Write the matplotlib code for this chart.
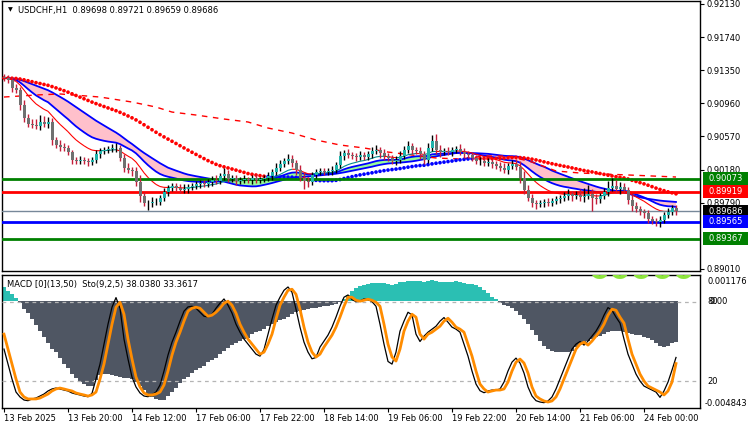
import numpy as np
import pandas as pd
import matplotlib
matplotlib.use('Agg')
import matplotlib.pyplot as plt
from matplotlib.collections import LineCollection
from matplotlib.patches import Rectangle

plt.rcParams['font.family'] = ['DejaVu Sans']
FS = 6

# ---- data (USDCHF H1) ----
first_open = 0.91270
closes = [
    0.91258, 0.91235, 0.91140, 0.91117, 0.90940, 0.90787, 0.90716, 0.90705, 0.90693, 0.90740,
    0.90716, 0.90740, 0.90528, 0.90469, 0.90445, 0.90434, 0.90386, 0.90292, 0.90280, 0.90292,
    0.90280, 0.90269, 0.90292, 0.90363, 0.90398, 0.90410, 0.90422, 0.90434, 0.90434, 0.90316,
    0.90198, 0.90174, 0.90163, 0.90033, 0.89868, 0.89786, 0.89786, 0.89797, 0.89797, 0.89845,
    0.89915, 0.89962, 0.89986, 0.89962, 0.89939, 0.89951, 0.89974, 0.89986, 0.90010, 0.90021,
    0.90010, 0.90033, 0.90057, 0.90045, 0.90104, 0.90127, 0.90068, 0.90080, 0.90045, 0.90057,
    0.90068, 0.90057, 0.90080, 0.90057, 0.90068, 0.90080, 0.90104, 0.90151, 0.90198, 0.90245,
    0.90280, 0.90304, 0.90257, 0.90174, 0.90080, 0.90045, 0.90033, 0.90116, 0.90151, 0.90163,
    0.90151, 0.90163, 0.90174, 0.90233, 0.90339, 0.90375, 0.90351, 0.90339, 0.90328, 0.90351,
    0.90328, 0.90363, 0.90398, 0.90410, 0.90375, 0.90339, 0.90316, 0.90280, 0.90292, 0.90339,
    0.90410, 0.90457, 0.90410, 0.90398, 0.90363, 0.90292, 0.90434, 0.90516, 0.90410, 0.90386,
    0.90398, 0.90386, 0.90410, 0.90422, 0.90386, 0.90363, 0.90351, 0.90316, 0.90280, 0.90280,
    0.90257, 0.90269, 0.90245, 0.90222, 0.90198, 0.90174, 0.90222, 0.90245, 0.90210, 0.90080,
    0.89939, 0.89845, 0.89786, 0.89774, 0.89786, 0.89797, 0.89786, 0.89809, 0.89833, 0.89845,
    0.89868, 0.89892, 0.89868, 0.89880, 0.89856, 0.89868, 0.89892, 0.89845, 0.89833, 0.89868,
    0.89915, 0.89962, 0.89986, 0.89951, 0.89974, 0.89939, 0.89821, 0.89750, 0.89715, 0.89691,
    0.89668, 0.89597, 0.89574, 0.89562, 0.89585, 0.89644, 0.89680, 0.89727, 0.89686]

# wick lengths in pips above / below the body
wick_up = [
    3, 4, 3, 5, 4, 6, 5, 6, 7, 8, 7, 6, 5, 4, 6, 5, 4, 3, 4, 5,
    4, 3, 4, 5, 4, 3, 4, 5, 6, 4, 5, 6, 4, 5, 8, 5, 4, 6, 5, 4,
    5, 4, 3, 4, 5, 6, 4, 3, 4, 3, 4, 3, 5, 6, 4, 7, 5, 4, 3, 4,
    5, 3, 4, 5, 3, 4, 5, 4, 6, 5, 4, 6, 5, 4, 6, 7, 5, 4, 3, 4,
    3, 4, 5, 4, 6, 4, 5, 3, 4, 5, 4, 3, 5, 6, 4, 5, 3, 4, 5, 6,
    5, 6, 4, 3, 5, 4, 6, 7, 8, 6, 4, 5, 3, 4, 6, 5, 4, 3, 4, 5,
    4, 5, 3, 4, 5, 6, 4, 5, 6, 7, 8, 6, 5, 4, 3, 4, 5, 4, 3, 4,
    5, 6, 4, 5, 7, 9, 11, 6, 5, 4, 5, 8, 9, 7, 6, 5, 4, 6, 5, 4,
    3, 4, 3, 4, 5, 4, 5, 4, 3]
wick_dn = [
    4, 3, 5, 4, 6, 5, 4, 3, 4, 5, 4, 5, 6, 4, 5, 3, 4, 5, 4, 3,
    4, 5, 3, 4, 5, 4, 3, 4, 5, 4, 5, 4, 6, 5, 7, 4, 8, 5, 4, 3,
    4, 5, 3, 4, 3, 4, 5, 3, 4, 5, 3, 4, 5, 3, 4, 5, 4, 3, 5, 4,
    3, 4, 5, 3, 4, 3, 4, 5, 3, 4, 4, 3, 5, 6, 4, 9, 6, 4, 3, 4,
    3, 4, 5, 3, 4, 5, 3, 4, 5, 4, 3, 4, 5, 4, 6, 5, 4, 3, 5, 4,
    4, 3, 5, 4, 6, 5, 4, 3, 5, 6, 3, 4, 5, 4, 3, 5, 4, 3, 4, 5,
    4, 3, 5, 4, 3, 4, 5, 4, 3, 6, 5, 4, 5, 6, 4, 5, 4, 3, 4, 5,
    4, 5, 6, 4, 5, 6, 4, 15, 6, 5, 4, 5, 4, 5, 6, 4, 5, 6, 4, 5,
    6, 5, 4, 5, 6, 4, 3, 4, 4]

# slow dashed average, sampled (bar index, price)
slow_ma_bars = [0, 8, 14, 24, 32, 38, 42, 48, 55, 61, 66, 72, 78, 84, 90, 96,
                102, 108, 114, 120, 126, 132, 138, 144, 150, 156, 162, 168]
slow_ma_vals = [0.91034, 0.91058, 0.91070, 0.91034, 0.90975, 0.90916, 0.90857, 0.90822,
                0.90775, 0.90740, 0.90669, 0.90610, 0.90528, 0.90469, 0.90434, 0.90386,
                0.90351, 0.90316, 0.90304, 0.90339, 0.90339, 0.90269, 0.90163, 0.90139,
                0.90127, 0.90116, 0.90104, 0.90092]

# MACD(13,50) histogram, in 1e-5
macd_hist = [
    63, 45, 31, 13, -9, -36, -54, -81, -108, -135,
    -162, -189, -216, -233, -260, -283, -305, -332, -350, -368,
    -377, -386, -386, -359, -337, -332, -332, -337, -341, -346,
    -350, -350, -355, -368, -386, -404, -422, -436, -445, -449,
    -449, -431, -413, -395, -373, -355, -346, -328, -314, -305,
    -292, -278, -269, -260, -242, -225, -211, -198, -189, -180,
    -171, -166, -148, -139, -135, -126, -112, -103, -94, -85,
    -81, -72, -58, -49, -45, -40, -36, -31, -31, -27,
    -22, -22, -18, -13, -4, 9, 27, 45, 58, 67,
    72, 76, 81, 81, 81, 81, 76, 72, 76, 85,
    85, 90, 90, 90, 90, 85, 90, 94, 90, 85,
    85, 85, 85, 90, 85, 81, 76, 76, 72, 63,
    49, 36, 18, 9, -9, -18, -22, -31, -45, -63,
    -81, -103, -130, -153, -180, -202, -216, -225, -229, -229,
    -229, -229, -225, -207, -198, -193, -180, -171, -162, -157,
    -148, -139, -135, -135, -135, -139, -144, -148, -153, -153,
    -162, -166, -175, -189, -202, -207, -202, -189, -184]

# Stochastic(9,2,5)
sto_main = [
    44.3, 33.0, 21.8, 12.0, 8.3, 6.0, 5.5, 6.8, 7.5, 9.0,
    10.5, 12.8, 14.3, 15.0, 14.3, 13.5, 12.8, 11.3, 10.5, 9.8,
    9.0, 8.5, 11.0, 21.8, 33.0, 48.0, 63.0, 75.8, 83.0, 75.0,
    51.8, 36.8, 23.3, 15.8, 11.3, 9.0, 8.5, 10.0, 12.0, 17.3,
    27.8, 39.8, 49.5, 57.0, 65.3, 72.8, 76.0, 76.5, 75.0, 72.0,
    69.0, 68.5, 70.5, 75.0, 78.8, 82.0, 77.3, 71.3, 63.0, 57.0,
    51.8, 48.0, 44.3, 40.5, 39.0, 44.0, 55.5, 66.8, 77.3, 83.3,
    88.5, 91.0, 87.0, 74.3, 60.8, 49.5, 42.0, 37.0, 38.0, 45.8,
    50.3, 54.8, 60.8, 68.3, 76.5, 83.3, 85.0, 81.5, 80.0, 80.5,
    82.0, 81.5, 80.0, 76.5, 63.0, 48.0, 35.0, 33.0, 42.0, 57.8,
    65.3, 72.0, 70.0, 55.5, 50.0, 54.0, 57.0, 59.3, 61.5, 65.3,
    68.0, 64.5, 60.8, 59.3, 57.0, 48.0, 39.0, 27.8, 18.0, 13.0,
    11.5, 12.8, 13.5, 13.5, 14.3, 19.5, 27.8, 34.5, 37.5, 33.8,
    26.3, 15.8, 9.0, 5.5, 4.5, 4.0, 5.3, 8.3, 14.3, 21.8,
    29.3, 36.8, 44.3, 48.0, 50.0, 47.3, 50.3, 54.0, 57.8, 63.0,
    69.8, 75.5, 73.5, 68.3, 63.8, 51.8, 40.5, 33.0, 25.5, 20.3,
    16.5, 15.0, 13.5, 12.0, 8.0, 12.8, 19.5, 28.5, 38.0]
sto_signal = [
    55.5, 44.3, 33.0, 21.8, 12.0, 8.3, 6.8, 6.8, 6.8, 7.5,
    9.0, 10.5, 12.8, 14.3, 15.0, 14.3, 13.5, 12.8, 11.3, 10.5,
    9.8, 9.0, 9.8, 12.0, 21.8, 33.0, 48.0, 63.0, 75.8, 79.5,
    70.5, 51.8, 36.8, 23.3, 15.8, 11.3, 9.8, 9.8, 10.5, 12.0,
    17.3, 27.8, 39.8, 49.5, 57.0, 65.3, 72.8, 75.0, 75.8, 75.0,
    72.0, 69.0, 69.8, 72.0, 75.0, 78.8, 80.3, 77.3, 71.3, 63.0,
    57.0, 51.8, 48.0, 44.3, 40.5, 42.0, 48.0, 55.5, 66.8, 77.3,
    83.3, 88.5, 89.3, 85.5, 74.3, 60.8, 49.5, 42.0, 38.3, 40.5,
    45.8, 50.3, 54.8, 60.8, 68.3, 76.5, 83.3, 83.3, 81.0, 80.3,
    81.0, 81.8, 81.0, 79.5, 76.5, 63.0, 48.0, 38.3, 35.3, 44.3,
    57.8, 65.3, 70.5, 68.3, 55.5, 51.8, 55.5, 57.0, 59.3, 61.5,
    65.3, 67.5, 64.5, 60.8, 59.3, 57.0, 48.0, 39.0, 27.8, 18.0,
    14.3, 12.0, 12.8, 13.5, 13.5, 14.3, 19.5, 27.8, 34.5, 36.8,
    33.8, 26.3, 15.8, 9.0, 6.8, 5.3, 4.5, 5.3, 8.3, 14.3,
    21.8, 29.3, 36.8, 44.3, 48.0, 49.5, 47.3, 50.3, 54.0, 57.8,
    63.0, 69.8, 74.3, 73.5, 68.3, 63.8, 51.8, 40.5, 33.0, 25.5,
    20.3, 16.5, 15.0, 13.5, 12.0, 9.8, 12.8, 19.5, 33.4]

price_ticks = [0.92130, 0.91740, 0.91350, 0.90960, 0.90570, 0.90180, 0.89790, 0.89010]
levels = [(0.90073, '#008000', 2.0), (0.89919, '#FF0000', 2.0),
          (0.89565, '#0000FF', 2.0), (0.89367, '#008000', 2.0)]
bid = 0.89686
date_ticks = [0, 16, 32, 48, 64, 80, 96, 112, 128, 144, 160]
date_labels = ['13 Feb 2025', '13 Feb 20:00', '14 Feb 12:00', '17 Feb 06:00',
               '17 Feb 22:00', '18 Feb 14:00', '19 Feb 06:00', '19 Feb 22:00',
               '20 Feb 14:00', '21 Feb 06:00', '24 Feb 00:00']

# ---- derived series ----
c = np.array(closes)
n = len(c)
x = np.arange(n)
o = np.concatenate([[first_open], c[:-1]])
hi = np.maximum(o, c) + np.array(wick_up) * 1e-4
lo = np.minimum(o, c) - np.array(wick_dn) * 1e-4
bull = c >= o


def sma(vals, per):
    pad = np.concatenate([np.full(per - 1, vals[0]), vals])
    return pd.Series(pad).rolling(per).mean().values[per - 1:]


ema12 = pd.Series(c).ewm(span=12, adjust=False).mean().values
ema21 = pd.Series(c).ewm(span=21, adjust=False).mean().values
sma30 = sma(c, 30)
sma50 = sma(c, 50)

W, H = 750, 430
fig = plt.figure(figsize=(W / 100, H / 100), dpi=100)
fig.patch.set_facecolor('white')


def fx(px):
    return px / W


def fy(py):
    return 1 - py / H


ax = fig.add_axes([fx(2), fy(271), fx(698), 270 / H])
ax.set_xlim(-0.5, 174)
ax.set_ylim(0.88985, 0.92165)

# cloud
ax.fill_between(x, ema21, sma30, where=ema21 < sma30, interpolate=True,
                color='#FFC0CB', lw=0, zorder=1)
ax.fill_between(x, ema21, sma30, where=ema21 >= sma30, interpolate=True,
                color='#98FB98', lw=0, zorder=1)
ax.plot(x, ema21, color='#0000FF', lw=1.3, zorder=2)
ax.plot(x, sma30, color='#0000FF', lw=1.3, zorder=2)

# slow dashed
ax.plot(slow_ma_bars, slow_ma_vals, color='#FF0000', lw=1, dashes=(4, 4), zorder=2)

# dotted sma50
dot_cols = np.where(c > sma50, '#0000FF', '#FF0000')
ax.scatter(x, sma50, s=7, c=dot_cols, marker='o', lw=0, zorder=3)

# thin ema12, coloured by price side
segs = [[(x[i], ema12[i]), (x[i + 1], ema12[i + 1])] for i in range(n - 1)]
seg_cols = ['#008B8B' if c[i + 1] > ema12[i + 1] else '#FF0000' for i in range(n - 1)]
ax.add_collection(LineCollection(segs, colors=seg_cols, lw=0.8, zorder=3))

# horizontal levels
for lvl, col, lw in levels:
    ax.axhline(lvl, color=col, lw=lw, zorder=4)
ax.axhline(bid, color='#778899', lw=1, zorder=4)

# candles
wick_cols = np.where(bull, '#000000', '#C41E3A')
ax.vlines(x, lo, hi, colors=wick_cols, lw=1, zorder=5)
body_h = np.maximum(np.abs(c - o), 0.00003)
ax.bar(x, body_h, bottom=np.minimum(o, c), width=0.75,
       color=np.where(bull, '#20B2AA', '#707070'), lw=0, zorder=6)

ax.set_xticks([])
ax.yaxis.tick_right()
ax.set_yticks(price_ticks)
ax.set_yticklabels(['%.5f' % p for p in price_ticks])
ax.tick_params(axis='y', labelsize=FS, length=3, width=0.8, pad=2)
for s in ax.spines.values():
    s.set_color('black')
    s.set_linewidth(1)

# price boxes on the right
ytr = ax.get_yaxis_transform()
boxes = [(0.90073, '#008000'), (0.89919, '#FF0000'), (bid, '#000000'),
         (0.89565, '#0000FF'), (0.89367, '#008000')]
half = 6.5 * (0.92165 - 0.88985) / 270
for lvl, col in boxes:
    ax.add_patch(Rectangle((1.0043, lvl - half), 0.0645, 2 * half, transform=ytr,
                           facecolor=col, edgecolor='none', clip_on=False, zorder=10))
    ax.text(1.0365, lvl, '%.5f' % lvl, transform=ytr, color='white', fontsize=FS,
            ha='center', va='center', clip_on=False, zorder=11)

fig.text(fx(8), fy(10), '\u25BC', fontsize=4.5, va='center', ha='left')
fig.text(fx(18), fy(10), 'USDCHF,H1  0.89698 0.89721 0.89659 0.89686',
         fontsize=FS, va='center', ha='left')

# ---- lower panel ----
ax2 = fig.add_axes([fx(2), fy(408), fx(698), 133 / H])
ax2.set_xlim(-0.5, 174)
ax2.set_ylim(-0.004843, 0.001176)
hv = np.array(macd_hist) * 1e-5
ax2.bar(x, hv, width=0.82, color=np.where(hv >= 0, '#2BBFB3', '#4F5663'), lw=0, zorder=2)
ax2.set_yticks([])
ax2.set_xticks(date_ticks)
ax2.set_xticklabels(date_labels)
ax2.tick_params(axis='x', labelsize=FS, length=3, width=0.8, pad=1.5)
for lab in ax2.get_xticklabels():
    lab.set_ha('left')
for s in ax2.spines.values():
    s.set_color('black')
    s.set_linewidth(1)

ax3 = ax2.twinx()
ax3.set_ylim(0, 100)
ax3.axhline(80, color='#B4B4B4', lw=0.9, dashes=(3, 3), zorder=1)
ax3.axhline(20, color='#B4B4B4', lw=0.9, dashes=(3, 3), zorder=1)
ax3.plot(x, sto_main, color='black', lw=0.9, zorder=3)
ax3.plot(x, sto_signal, color='#FF8C00', lw=2, zorder=4)
ax3.set_yticks([])
for s in ax3.spines.values():
    s.set_visible(False)

# lime object at the top edge of the sub-window, mostly out of view
lime = fig.text(fx(588), fy(279), '00000', fontsize=22, fontweight='bold',
                color='#8EE53F', va='baseline', ha='left', zorder=1)
lime.set_clip_path(Rectangle((fx(586), fy(279)), fx(112), 4.5 / H,
                             transform=fig.transFigure))

fig.text(fx(7), fy(284), 'MACD [0](13,50)  Sto(9,2,5) 38.0380 33.3617',
         fontsize=FS, va='center', ha='left')
fig.text(fx(707), fy(281), '0.001176', fontsize=FS, va='center', ha='left')
fig.text(fx(707), fy(302), '80', fontsize=FS, va='center', ha='left')
fig.text(fx(709), fy(302), '0.00', fontsize=FS, va='center', ha='left')
fig.text(fx(707), fy(382), '20', fontsize=FS, va='center', ha='left')
fig.text(fx(705), fy(403), '-0.004843', fontsize=FS, va='center', ha='left')

fig.savefig('out.png', dpi=100)
